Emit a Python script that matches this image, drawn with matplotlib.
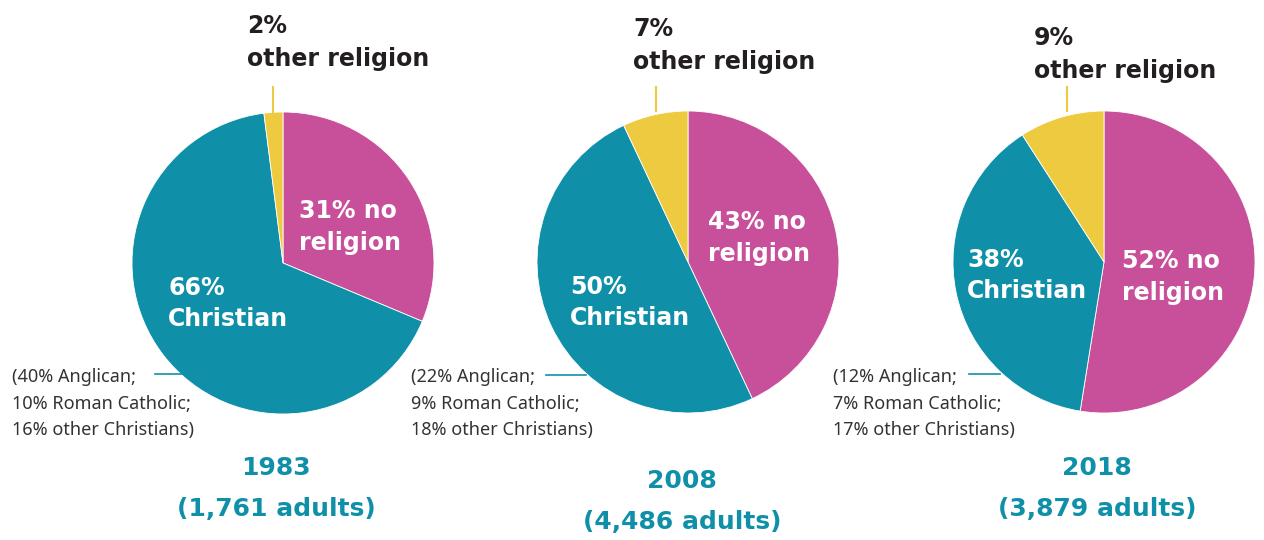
import matplotlib.pyplot as plt

# survey values
years = ["1983", "2008", "2018"]
adults = ["1,761", "4,486", "3,879"]
no_religion = [31, 43, 52]
christian = [66, 50, 38]
other_religion = [2, 7, 9]
anglican = [40, 22, 12]
catholic = [10, 9, 7]
other_christians = [16, 18, 17]

PINK = "#C8509A"
TEAL = "#1090A8"
YELLOW = "#EECA40"
DARK = "#231F20"
HEAD = "DejaVu Sans"
BODY = "Noto Sans"

W, H = 1264, 540
fig = plt.figure(figsize=(W / 100, H / 100), dpi=100)
ax = fig.add_axes([0, 0, 1, 1])

def Y(y):
    # pixel row -> data y (y axis points up)
    return H - y

def lines(x, y0, step, texts, **kw):
    # one text per line, placed on baselines
    for k, t in enumerate(texts):
        ax.text(x, Y(y0 + k * step), t, va="baseline", **kw)

# layout of each panel in pixels (x, first baseline)
centers = [(283, 263), (688, 262), (1104, 262)]
radius = 151
other_lbl = [(247, 33), (633, 36), (1034, 45)]
other_line_x = [273, 656, 1067]
norel_lbl = [(299, 218), (708, 229), (1122, 268)]
chr_lbl = [(168, 295), (570, 294), (967, 267)]
note_xy = [(12, 382), (411, 382), (833, 382)]
note_line = [(155, 183, 374), (546, 586, 375), (969, 1000, 374)]
year_xy = [(276, 475), (682, 488), (1097, 475)]

head = dict(family=HEAD, fontweight="bold")

for i in range(3):
    cx, cy = centers[i]
    ax.pie([no_religion[i], christian[i], other_religion[i]],
           colors=[PINK, TEAL, YELLOW], startangle=90, counterclock=False,
           center=(cx, Y(cy)), radius=radius,
           wedgeprops=dict(edgecolor="white", linewidth=0.6))

    # other religion label with yellow leader
    x, y = other_lbl[i]
    lines(x, y, 33, [f"{other_religion[i]}%", "other religion"],
          fontsize=17, color=DARK, ha="left", **head)
    ax.plot([other_line_x[i]] * 2, [Y(87), Y(cy - radius)], color=YELLOW, lw=1.5)

    # labels inside the pie
    x, y = norel_lbl[i]
    lines(x, y, 32, [f"{no_religion[i]}% no", "religion"],
          fontsize=17, color="white", ha="left", **head)
    x, y = chr_lbl[i]
    lines(x, y, 31, [f"{christian[i]}%", "Christian"],
          fontsize=17, color="white", ha="left", **head)

    # christian breakdown note
    x, y = note_xy[i]
    lines(x, y, 26.5, [f"({anglican[i]}% Anglican;",
                       f"{catholic[i]}% Roman Catholic;",
                       f"{other_christians[i]}% other Christians)"],
          family=BODY, fontsize=13, color="#333333", ha="left")
    x0, x1, yl = note_line[i]
    ax.plot([x0, x1], [Y(yl), Y(yl)], color=TEAL, lw=1.2)

    # year label
    x, y = year_xy[i]
    lines(x, y, 41, [years[i], f"({adults[i]} adults)"],
          fontsize=18, color=TEAL, ha="center", **head)

ax.set_xlim(0, W)
ax.set_ylim(0, H)
ax.set_aspect("equal")
ax.axis("off")

fig.savefig("out.png", dpi=100, facecolor="white")
